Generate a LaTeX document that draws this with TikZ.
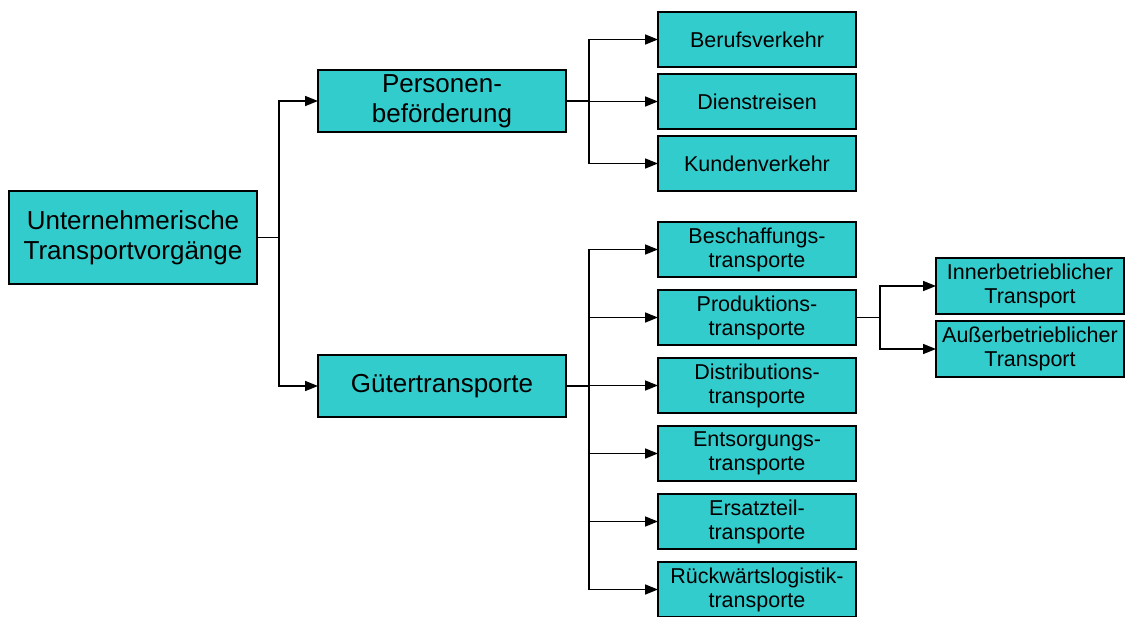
\documentclass[tikz,border=0pt]{standalone}
\usepackage{fontspec}
\setmainfont{Liberation Sans}
\usetikzlibrary{arrows.meta,positioning}
\definecolor{tuerkis}{RGB}{51,204,204}
\tikzset{
    box/.style={draw, fill=tuerkis, line width=1.5pt, align=center, inner sep=0pt, outer sep=0pt},
    bigbox/.style={box, minimum width=248pt, font=\fontsize{26}{30}\selectfont},
    smallbox/.style={box, minimum width=198pt, minimum height=55pt, font=\fontsize{21.5}{24}\selectfont},
    sidebox/.style={smallbox, minimum width=188pt, minimum height=56pt},
    link/.style={-{Triangle[length=13pt, width=10pt]}, line width=1.6pt}
}

\begin{document}
\begin{tikzpicture}[x=1pt, y=1pt]
    \useasboundingbox (0,0) rectangle (1126,-616);

    \node[bigbox, minimum height=93pt] (root) at (133,-237.5) {Unternehmerische\\Transportvorgänge};
    \node[bigbox, minimum height=62pt] (pers) at (442,-101) {Personen-\\beförderung};
    \node[bigbox, minimum height=62pt] (gut) at (442,-386) {Gütertransporte};

    % Personenbefoerderung
    \node[smallbox] (beruf) at (757,-39.5) {Berufsverkehr};
    \node[smallbox, below=7pt of beruf] (dienst) {Dienstreisen};
    \node[smallbox, below=7pt of dienst] (kunden) {Kundenverkehr};

    % Guetertransporte
    \node[smallbox] (besch) at (757,-249.5) {Beschaffungs-\\transporte};
    \node[smallbox, below=13pt of besch] (prod) {Produktions-\\transporte};
    \node[smallbox, below=13pt of prod] (dist) {Distributions-\\transporte};
    \node[smallbox, below=13pt of dist] (entsorg) {Entsorgungs-\\transporte};
    \node[smallbox, below=13pt of entsorg] (ersatz) {Ersatzteil-\\transporte};
    \node[smallbox, below=13pt of ersatz] (rueck) {Rückwärtslogistik-\\transporte};

    \node[sidebox] (inner) at (1030,-286) {Innerbetrieblicher\\Transport};
    \node[sidebox, below=7pt of inner] (ausser) {Außerbetrieblicher\\Transport};

    \foreach \k in {pers,gut}
        \draw[link] (root.east) -- ++(22,0) |- (\k.west);
    \foreach \k in {beruf,dienst,kunden}
        \draw[link] (pers.east) -- ++(23,0) |- (\k.west);
    \foreach \k in {besch,prod,dist,entsorg,ersatz,rueck}
        \draw[link] (gut.east) -- ++(23,0) |- (\k.west);
    \foreach \k in {inner,ausser}
        \draw[link] (prod.east) -- ++(24,0) |- (\k.west);
\end{tikzpicture}
\end{document}
